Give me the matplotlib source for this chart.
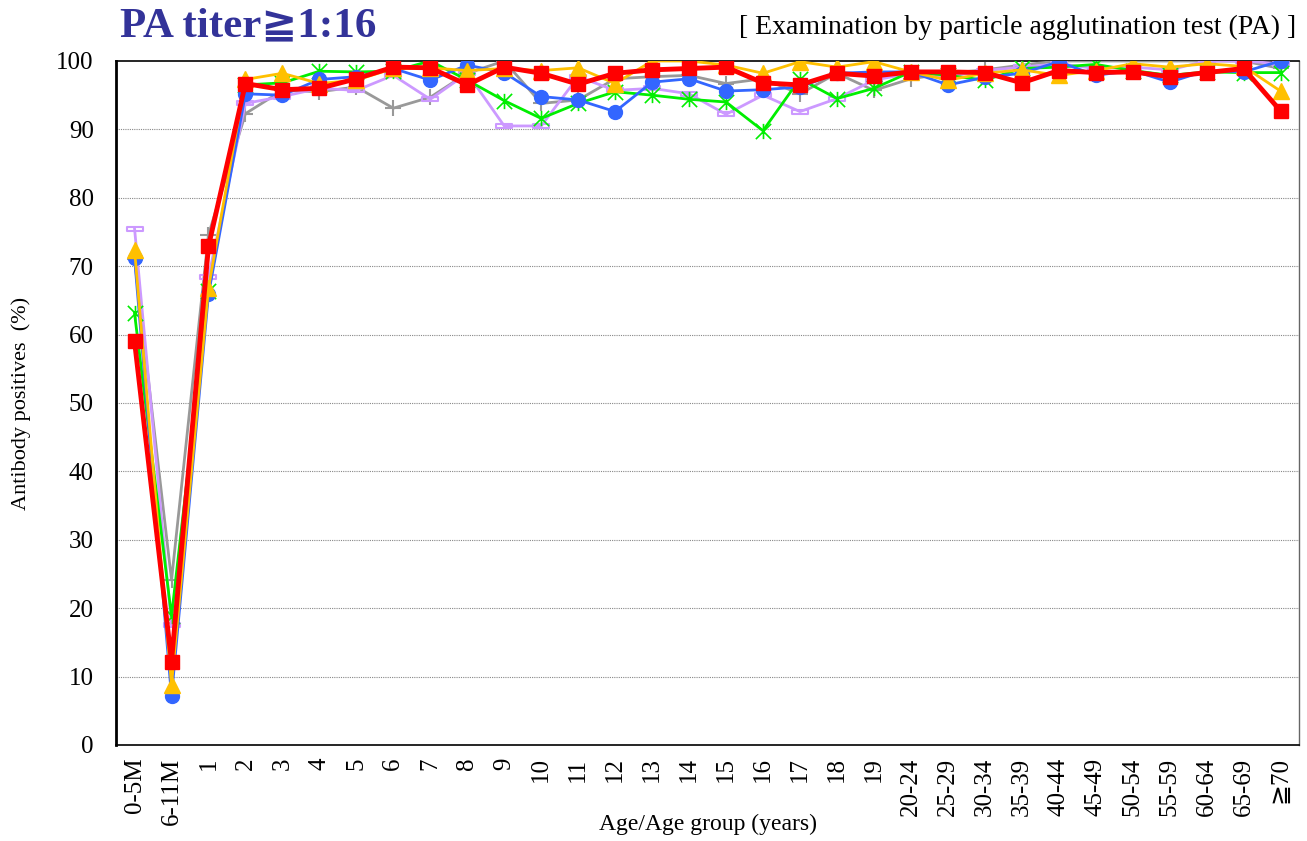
import matplotlib
matplotlib.use("Agg")
import matplotlib.pyplot as plt
from matplotlib.path import Path

plt.rcParams['font.family'] = ['Liberation Serif', 'DejaVu Serif', 'DejaVu Sans']

ages = ["0-5M", "6-11M", "1", "2", "3", "4", "5", "6", "7", "8", "9", "10",
        "11", "12", "13", "14", "15", "16", "17", "18", "19",
        "20-24", "25-29", "30-34", "35-39", "40-44", "45-49", "50-54",
        "55-59", "60-64", "65-69", "≧70"]

gray = [71.0, 24.1, 74.6, 92.3, 95.7, 95.5, 96.2, 93.1, 94.7, 98.2, 100.0, 93.8,
        94.3, 97.4, 97.7, 97.9, 96.7, 97.4, 95.2, 98.2, 95.7,
        97.4, 98.2, 98.7, 99.4, 100.0, 100.0, 100.0, 100.0, 100.0, 100.0, 98.9]
lavender = [75.5, 17.5, 68.4, 93.8, 94.8, 96.0, 95.7, 97.9, 94.4, 98.2, 90.5, 90.5,
            97.7, 95.7, 96.0, 95.2, 92.2, 95.0, 92.6, 94.5, 97.2,
            98.2, 97.7, 98.6, 99.1, 99.6, 98.9, 99.1, 98.7, 100.0, 100.0, 99.6]
green = [63.1, 18.8, 66.3, 96.5, 96.8, 98.5, 98.4, 98.5, 100.0, 97.2, 94.2, 91.6,
         93.8, 95.5, 95.0, 94.4, 94.0, 89.8, 97.4, 94.5, 96.0,
         98.4, 97.9, 97.2, 98.9, 99.1, 99.5, 98.6, 97.9, 98.4, 98.3, 98.3]
blue = [71.2, 7.1, 65.9, 95.2, 95.0, 97.3, 97.7, 98.9, 97.2, 99.4, 98.3, 94.8,
        94.3, 92.6, 96.9, 97.4, 95.6, 95.8, 96.2, 98.2, 98.4,
        98.4, 96.5, 97.6, 98.2, 99.9, 97.9, 98.6, 96.9, 98.6, 98.4, 100.0]
yellow = [72.4, 8.8, 66.8, 97.3, 98.2, 96.7, 97.2, 98.9, 99.0, 98.6, 98.9, 98.6,
          99.0, 96.7, 100.0, 100.0, 99.4, 98.2, 99.9, 99.1, 99.9,
          98.4, 97.2, 98.2, 98.7, 97.9, 98.6, 99.6, 99.1, 99.6, 99.2, 95.6]
red = [59.0, 12.2, 72.9, 96.7, 95.8, 96.0, 97.4, 99.1, 99.0, 96.5, 99.1, 98.2,
       96.6, 98.2, 98.7, 98.9, 99.1, 96.8, 96.5, 98.2, 97.8,
       98.4, 98.4, 98.3, 96.8, 98.6, 98.3, 98.4, 97.7, 98.3, 98.9, 92.7]

# excel-like markers
star = Path([(-1, -1), (1, 1), (-1, 1), (1, -1), (0, -1), (0, 1)],
            [Path.MOVETO, Path.LINETO, Path.MOVETO, Path.LINETO, Path.MOVETO, Path.LINETO])
flatbox = Path([(-1, -0.3), (1, -0.3), (1, 0.3), (-1, 0.3), (-1, -0.3)],
               [Path.MOVETO, Path.LINETO, Path.LINETO, Path.LINETO, Path.CLOSEPOLY])

fig = plt.figure(figsize=(13.07, 8.41), dpi=100)
ax = fig.add_axes([0.0888, 0.1142, 0.9051, 0.8133])

x = list(range(len(ages)))

ax.plot(x, gray, color='#999999', lw=2, marker='+', ms=12, mew=1.5, zorder=3)
ax.plot(x, lavender, color='#cc99ff', lw=2, marker=flatbox, ms=11, mfc='none', mew=1.5, zorder=3)
ax.plot(x, green, color='#00ee00', lw=2, marker=star, ms=11, mfc='none', mew=1.2, zorder=4)
ax.plot(x, blue, color='#3366ff', lw=2, marker='o', ms=10, zorder=5)
ax.plot(x, yellow, color='#ffc000', lw=2, marker='^', ms=11, zorder=6)
ax.plot(x, red, color='#ff0000', lw=3.5, marker='s', ms=10, zorder=7)

ax.set_xlim(-0.5, len(ages) - 0.5)
ax.set_ylim(0, 100)
ax.set_yticks(range(0, 101, 10))
ax.set_xticks(x)
ax.set_xticklabels(ages, rotation=90, fontsize=18)
ax.tick_params(axis='y', labelsize=18, length=0, pad=16)
ax.tick_params(axis='x', length=0, pad=9)

for yv in range(10, 100, 10):
    ax.axhline(yv, color='#888888', lw=0.8, ls=(0, (1, 1)), zorder=1)

for s in ['left', 'bottom', 'top']:
    ax.spines[s].set_color('black')
    ax.spines[s].set_linewidth(1.2)
ax.spines['left'].set_linewidth(2)
ax.spines['right'].set_color('#666666')
ax.spines['right'].set_linewidth(1)

ax.set_ylabel('Antibody positives  (%)', fontsize=16)
ax.yaxis.set_label_coords(-0.072, 0.5)
ax.set_xlabel('Age/Age group (years)', fontsize=17)
ax.xaxis.set_label_coords(0.5, -0.1)

fig.text(0.092, 0.968, 'PA titer≧1:16', fontsize=31, fontweight='bold',
         color='#333399', ha='left', va='center')
fig.text(0.992, 0.967, '[ Examination by particle agglutination test (PA) ]',
         fontsize=20, ha='right', va='center')

fig.savefig('out.png', dpi=100)
